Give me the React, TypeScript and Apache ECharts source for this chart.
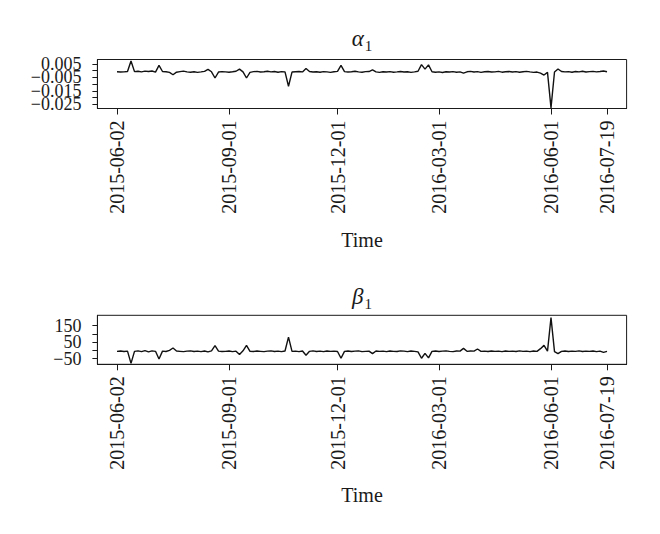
import React, { useEffect, useRef } from 'react';
import * as echarts from 'echarts';

// alpha_1 series (index = trading-day step)
const alphaValues = [
  -0.0008, -0.0010, -0.0009, -0.0006, 0.0072, -0.0007, -0.0004, -0.0009, -0.0003, -0.0006,
  -0.0002, -0.0010, 0.0040, -0.0006, -0.0008, -0.0012, -0.0030, -0.0011, -0.0007, -0.0003,
  -0.0009, -0.0011, -0.0008, -0.0012, -0.0009, -0.0005, 0.0010, -0.0008, -0.0054, -0.0010,
  -0.0007, -0.0009, -0.0011, -0.0008, -0.0004, 0.0012, -0.0009, -0.0054, -0.0012, -0.0007,
  -0.0005, -0.0010, -0.0008, -0.0004, -0.0009, -0.0006, -0.0011, -0.0007, -0.0009, -0.0115,
  -0.0010, -0.0008, -0.0006, -0.0009, 0.0016, -0.0006, -0.0010, -0.0008, -0.0011, -0.0007,
  -0.0009, -0.0012, -0.0008, -0.0005, 0.0040, -0.0007, -0.0010, -0.0008, -0.0004, -0.0009,
  -0.0011, -0.0007, -0.0006, 0.0006, -0.0009, -0.0012, -0.0008, -0.0010, -0.0007, -0.0011,
  -0.0009, -0.0006, -0.0010, -0.0008, -0.0012, -0.0009, -0.0004, 0.0045, 0.0012, 0.0043,
  -0.0008, -0.0011, -0.0009, -0.0013, -0.0008, -0.0010, -0.0007, -0.0011, -0.0009, -0.0018,
  -0.0008, -0.0005, -0.0010, -0.0007, -0.0012, -0.0008, -0.0006, -0.0010, -0.0009, -0.0005,
  -0.0011, -0.0008, -0.0006, -0.0010, -0.0007, -0.0011, -0.0008, -0.0005, -0.0009, -0.0012,
  -0.0010, -0.0018, -0.0032, -0.0012, -0.0275, -0.0010, 0.0013, -0.0006, -0.0009, -0.0007,
  -0.0011, -0.0006, -0.0009, -0.0004, -0.0010, -0.0007, -0.0005, -0.0009, -0.0006, -0.0002,
  -0.0008,
];

// beta_1 series
const betaValues = [
  -6, -4, -7, -5, -79, -6, -3, -8, -2, -9,
  -3, -6, -52, -5, -7, 0, 14, -4, -6, -8,
  -5, -3, -7, -5, -8, -4, -9, -3, 28, -5,
  -7, -6, -4, -8, -5, -25, -3, 30, -6, -7,
  -4, -6, -8, -5, -3, -7, -5, -8, -4, 80,
  -6, -5, -8, -4, -30, -6, -3, -7, -5, -8,
  -4, -6, -5, -7, -48, -6, -4, -7, -5, -3,
  -8, -6, -5, -20, -4, -6, -5, -8, -4, -6,
  -7, -3, -5, -8, -4, -6, -9, -48, -18, -46,
  -6, -4, -7, -5, -3, -6, -8, -4, -5, 12,
  -6, -4, -5, 8, -6, -5, -7, -4, -6, -5,
  -8, -4, -6, -5, -7, -3, -6, -5, -8, -4,
  -6, 10, 30, -5, 198, -8, -20, -6, -4, -7,
  -5, -6, -3, -7, -5, -6, -4, -8, -5, -12,
  -6,
];

const tickIndex = [0, 32, 63, 92, 124, 140];
const tickLabels = ['2015-06-02', '2015-09-01', '2015-12-01', '2016-03-01', '2016-06-01', '2016-07-19'];
const alphaTicks = [0.005, 0, -0.005, -0.01, -0.015, -0.02, -0.025];
const alphaLabelsA = [0.005, -0.015];
const alphaLabelsB = [-0.005, -0.025];
const betaTicks = [-50, 0, 50, 100, 150];
const betaLabelsA = [-50, 150];
const betaLabelsB = [50];

const FONT = '"Liberation Serif", "DejaVu Serif", serif';
const INK = '#1a1a1a';

export default function App() {
  const ref = useRef<HTMLDivElement>(null);
  useEffect(() => {
    if (!ref.current) return;
    const chart = echarts.init(ref.current, undefined, { renderer: 'svg' });
    const n = alphaValues.length - 1;
    const pad = n * 0.04;
    const minus = (s: string) => s.replace('-', '\u2212');

    const xAxisFor = (gi: number) => ({
      type: 'value',
      gridIndex: gi,
      min: -pad,
      max: n + pad,
      axisLine: { show: true, onZero: false, lineStyle: { color: INK, width: 1 } },
      axisTick: { show: true, customValues: tickIndex, length: 6, lineStyle: { color: INK, width: 1 } },
      axisLabel: {
        show: true,
        customValues: tickIndex,
        rotate: 90,
        margin: 12,
        fontFamily: FONT,
        fontSize: 20,
        color: INK,
        hideOverlap: false,
        showMinLabel: true,
        showMaxLabel: true,
        formatter: (v: number) => {
          const k = tickIndex.indexOf(Math.round(v));
          return k >= 0 ? tickLabels[k] : '';
        },
      },
      splitLine: { show: false },
    });

    const yLabelCommon = {
      margin: 16,
      fontFamily: FONT,
      fontSize: 18,
      lineHeight: 13,
      color: INK,
      hideOverlap: false,
      showMinLabel: true,
      showMaxLabel: true,
    };

    const yAxisFor = (
      gi: number,
      min: number,
      max: number,
      ticks: number[] | null,
      labels: number[],
      fmt: (v: number) => string,
    ) => ({
      type: 'value',
      gridIndex: gi,
      min,
      max,
      position: 'left',
      offset: 0,
      axisLine: { show: ticks !== null, onZero: false, lineStyle: { color: INK, width: 1 } },
      axisTick: ticks
        ? { show: true, customValues: ticks, length: 5, lineStyle: { color: INK, width: 1 } }
        : { show: false },
      axisLabel: { ...yLabelCommon, customValues: labels, formatter: fmt },
      splitLine: { show: false },
    });

    const fmtAlpha = (v: number) => minus(v.toFixed(3));
    const fmtBeta = (v: number) => minus(String(Math.round(v)));

    const gridCommon = { left: 97.4, right: 33.4, height: 49, show: true, borderColor: INK, borderWidth: 1, containLabel: false };

    chart.setOption({
      animation: false,
      backgroundColor: '#ffffff',
      grid: [
        { ...gridCommon, top: 59.5 },
        { ...gridCommon, top: 315.3 },
      ],
      xAxis: [xAxisFor(0), xAxisFor(1)],
      yAxis: [
        yAxisFor(0, -0.028, 0.0083, alphaTicks, alphaLabelsA, fmtAlpha),
        yAxisFor(1, -84.5, 212, betaTicks, betaLabelsA, fmtBeta),
        yAxisFor(0, -0.028, 0.0083, null, alphaLabelsB, fmtAlpha),
        yAxisFor(1, -84.5, 212, null, betaLabelsB, fmtBeta),
      ],
      series: [
        {
          type: 'line',
          xAxisIndex: 0,
          yAxisIndex: 0,
          data: alphaValues.map((v, i) => [i, v]),
          showSymbol: false,
          lineStyle: { color: '#111111', width: 1.4 },
        },
        {
          type: 'line',
          xAxisIndex: 1,
          yAxisIndex: 1,
          data: betaValues.map((v, i) => [i, v]),
          showSymbol: false,
          lineStyle: { color: '#111111', width: 1.4 },
        },
      ],
      graphic: [
        {
          type: 'text',
          x: 362,
          y: 38,
          style: {
            text: '{a|α}{s|1}',
            align: 'center',
            verticalAlign: 'middle',
            rich: {
              a: { fontFamily: FONT, fontStyle: 'italic', fontSize: 23, fill: INK, lineHeight: 24, verticalAlign: 'bottom' },
              s: { fontFamily: FONT, fontSize: 15, fill: INK, lineHeight: 14, padding: [12, 0, 0, 1], verticalAlign: 'top' },
            },
          },
        },
        {
          type: 'text',
          x: 362,
          y: 296,
          style: {
            text: '{a|β}{s|1}',
            align: 'center',
            verticalAlign: 'middle',
            rich: {
              a: { fontFamily: FONT, fontStyle: 'italic', fontSize: 23, fill: INK, lineHeight: 24, verticalAlign: 'bottom' },
              s: { fontFamily: FONT, fontSize: 15, fill: INK, lineHeight: 14, padding: [12, 0, 0, 1], verticalAlign: 'top' },
            },
          },
        },
        {
          type: 'text',
          x: 362,
          y: 240,
          style: { text: 'Time', align: 'center', verticalAlign: 'middle', fontFamily: FONT, fontSize: 20, fill: INK },
        },
        {
          type: 'text',
          x: 362,
          y: 495,
          style: { text: 'Time', align: 'center', verticalAlign: 'middle', fontFamily: FONT, fontSize: 20, fill: INK },
        },
      ],
    });
    return () => chart.dispose();
  }, []);
  return (
    <div
      ref={ref}
      style={{ position: 'fixed', left: 0, top: 0, width: 660, height: 534, background: '#fff' }}
    />
  );
}
